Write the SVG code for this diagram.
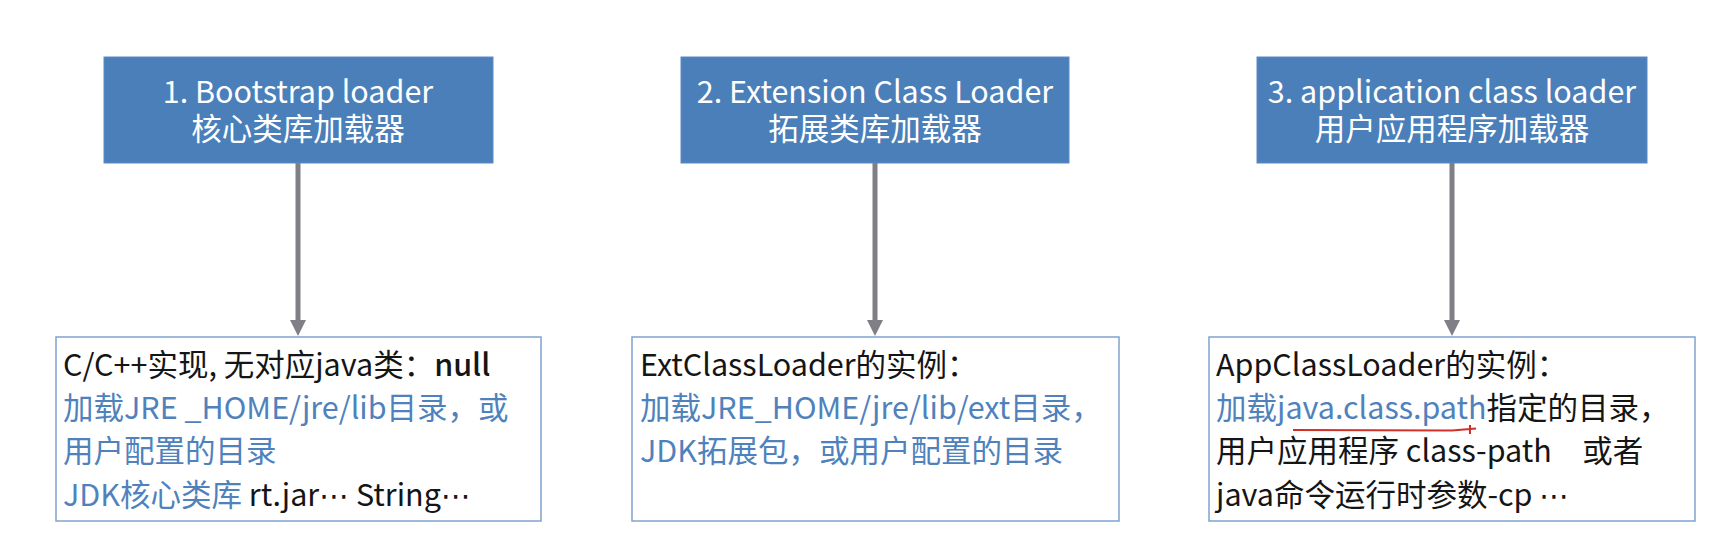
<svg xmlns="http://www.w3.org/2000/svg" width="1726" height="542" viewBox="0 0 1726 542" xml:lang="zh-CN">
<style>
text{font-family:"Noto Sans CJK SC","Noto Sans",sans-serif;font-size:30.5px;white-space:pre}
.hd{fill:#4A7FBA;stroke:#5B8CC4;stroke-width:1}
.ht{fill:#ffffff;text-anchor:middle}
.bx{fill:#ffffff;stroke:#7FA3CF;stroke-width:1.5}
.k{fill:#151515}
.b{fill:#4F82BD}
.el{font-family:"DejaVu Sans",sans-serif;font-size:30px}
.cn{stroke:#7F7F87;stroke-width:5;fill:none}
</style>
<defs>
<marker id="ah" markerWidth="16" markerHeight="16" refX="0" refY="8" orient="auto" markerUnits="userSpaceOnUse">
<path d="M0,0 L16,8 L0,16 Z" fill="#7F7F87"/>
</marker>
</defs>
<rect width="1726" height="542" fill="#ffffff"/>
<g id="connectors">
<line class="cn" x1="298" y1="163" x2="298" y2="320" marker-end="url(#ah)"/>
<line class="cn" x1="875" y1="163" x2="875" y2="320" marker-end="url(#ah)"/>
<line class="cn" x1="1452" y1="163" x2="1452" y2="320" marker-end="url(#ah)"/>
</g>
<g id="n1">
<rect class="hd" x="104" y="57" width="389" height="106"/>
<text class="ht" x="298" y="103">1. Bootstrap loader</text>
<text class="ht" x="298" y="140">核心类库加载器</text>
</g>
<g id="n2">
<rect class="hd" x="681" y="57" width="388" height="106"/>
<text class="ht" x="875" y="103">2. Extension Class Loader</text>
<text class="ht" x="875" y="140">拓展类库加载器</text>
</g>
<g id="n3">
<rect class="hd" x="1257" y="57" width="390" height="106"/>
<text class="ht" x="1452" y="103">3. application class loader</text>
<text class="ht" x="1452" y="140">用户应用程序加载器</text>
</g>
<g id="d1">
<rect class="bx" x="56" y="337" width="485" height="184"/>
<text x="63" y="376"><tspan class="k">C/C++实现, 无对应java类：</tspan><tspan class="k" font-weight="500">null</tspan></text>
<text x="63" y="419" class="b">加载JRE _HOME/jre/lib目录，或</text>
<text x="63" y="462" class="b">用户配置的目录</text>
<text x="63" y="506"><tspan class="b">JDK核心类库</tspan><tspan class="k"> rt.jar</tspan><tspan class="k el">⋯</tspan><tspan class="k"> String</tspan><tspan class="k el">⋯</tspan></text>
</g>
<g id="d2">
<rect class="bx" x="632" y="337" width="487" height="184"/>
<text x="640" y="376" class="k">ExtClassLoader的实例：</text>
<text x="640" y="419" class="b">加载JRE_HOME/jre/lib/ext目录，</text>
<text x="640" y="462" class="b">JDK拓展包，或用户配置的目录</text>
</g>
<g id="d3">
<rect class="bx" x="1209" y="337" width="486" height="184"/>
<text x="1216" y="376" class="k">AppClassLoader的实例：</text>
<text x="1216" y="419"><tspan class="b">加载java.class.path</tspan><tspan class="k">指定的目录，</tspan></text>
<text x="1216" y="462" class="k">用户应用程序 class-path　或者</text>
<text x="1216" y="506"><tspan class="k">java命令运行时参数-cp </tspan><tspan class="k el">⋯</tspan></text>
<path d="M1293,430 L1452,430.5 L1476,428.5 M1470,425 L1470,434" stroke="#D0302A" stroke-width="2" fill="none"/>
</g>
</svg>
